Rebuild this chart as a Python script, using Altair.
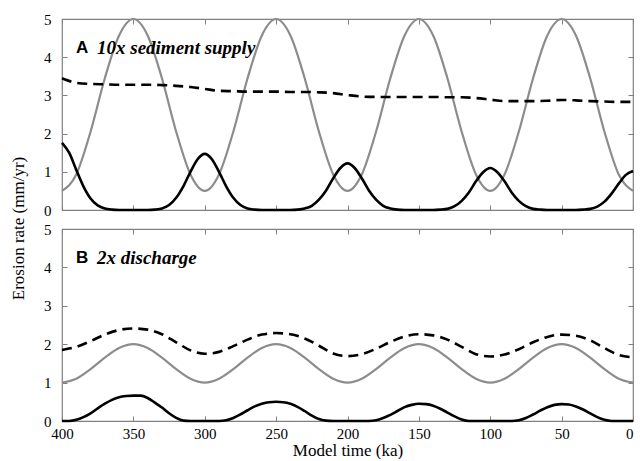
import altair as alt
import pandas as pd

# ---------------- data ----------------
t10 = list(range(400, -1, -10))   # 41 samples
t5 = list(range(400, -1, -5))     # 81 samples

# Panel A: 10x sediment supply
grey_a = [0.50, 0.93, 2.05, 3.45, 4.57, 5.00, 4.57, 3.45, 2.05, 0.93,
          0.50, 0.93, 2.05, 3.45, 4.57, 5.00, 4.57, 3.45, 2.05, 0.93,
          0.50, 0.93, 2.05, 3.45, 4.57, 5.00, 4.57, 3.45, 2.05, 0.93,
          0.50, 0.93, 2.05, 3.45, 4.57, 5.00, 4.57, 3.45, 2.05, 0.93,
          0.50]
black_a = [1.76, 1.50, 1.05, 0.62, 0.30, 0.12, 0.04, 0.01, 0.00, 0.00,
           0.00, 0.00, 0.00, 0.01, 0.04, 0.13, 0.32, 0.62, 1.00, 1.33,
           1.47, 1.33, 1.00, 0.62, 0.32, 0.13, 0.04, 0.01, 0.00, 0.00,
           0.00, 0.00, 0.00, 0.01, 0.04, 0.11, 0.27, 0.51, 0.83, 1.10,
           1.22, 1.10, 0.83, 0.51, 0.27, 0.11, 0.04, 0.01, 0.00, 0.00,
           0.00, 0.00, 0.00, 0.01, 0.03, 0.10, 0.24, 0.46, 0.75, 0.99,
           1.10, 0.99, 0.75, 0.46, 0.24, 0.10, 0.03, 0.01, 0.00, 0.00,
           0.00, 0.00, 0.00, 0.01, 0.03, 0.09, 0.22, 0.43, 0.69, 0.92,
           1.02]
dashed_a = [3.45, 3.33, 3.30, 3.29, 3.28, 3.28, 3.28, 3.27, 3.25, 3.22,
            3.17, 3.12, 3.11, 3.10, 3.10, 3.10, 3.09, 3.09, 3.08, 3.06,
            3.01, 2.97, 2.96, 2.96, 2.96, 2.96, 2.96, 2.95, 2.95, 2.93,
            2.89, 2.85, 2.85, 2.85, 2.86, 2.88, 2.87, 2.85, 2.84, 2.83,
            2.83]

# Panel B: 2x discharge
grey_b = [1.00, 1.10, 1.35, 1.65, 1.90, 2.00, 1.90, 1.65, 1.35, 1.10,
          1.00, 1.10, 1.35, 1.65, 1.90, 2.00, 1.90, 1.65, 1.35, 1.10,
          1.00, 1.10, 1.35, 1.65, 1.90, 2.00, 1.90, 1.65, 1.35, 1.10,
          1.00, 1.10, 1.35, 1.65, 1.90, 2.00, 1.90, 1.65, 1.35, 1.10,
          1.00]
black_b = [0.00, 0.00, 0.03, 0.10, 0.20, 0.33, 0.45, 0.55, 0.62, 0.65,
           0.66, 0.66, 0.60, 0.48, 0.35, 0.20, 0.08, 0.01, 0.00, 0.00,
           0.00, 0.00, 0.00, 0.02, 0.08, 0.17, 0.28, 0.38, 0.45, 0.49,
           0.50, 0.49, 0.45, 0.37, 0.26, 0.14, 0.05, 0.01, 0.00, 0.00,
           0.00, 0.00, 0.00, 0.00, 0.02, 0.08, 0.16, 0.26, 0.36, 0.42,
           0.45, 0.44, 0.40, 0.32, 0.22, 0.12, 0.04, 0.00, 0.00, 0.00,
           0.00, 0.00, 0.00, 0.00, 0.02, 0.08, 0.17, 0.27, 0.36, 0.42,
           0.44, 0.43, 0.38, 0.30, 0.20, 0.10, 0.03, 0.00, 0.00, 0.00,
           0.00]
dashed_b = [1.85, 1.93, 2.08, 2.25, 2.37, 2.41, 2.38, 2.26, 2.05, 1.84,
            1.75, 1.80, 1.95, 2.12, 2.25, 2.29, 2.26, 2.15, 1.96, 1.76,
            1.69, 1.74, 1.88, 2.06, 2.20, 2.26, 2.23, 2.12, 1.93, 1.74,
            1.68, 1.73, 1.87, 2.05, 2.19, 2.25, 2.22, 2.10, 1.90, 1.72,
            1.66]

x_ticks = [400, 350, 300, 250, 200, 150, 100, 50, 0]
y_ticks = [0, 1, 2, 3, 4, 5]
panel_letters = ["A", "B"]
panel_titles = ["10x sediment supply", "2x discharge"]
x_title = "Model time (ka)"
y_title = "Erosion rate (mm/yr)"

# ---------------- build table ----------------
rows = []
for panel, series, ts, vals in [
    ("A", "grey", t10, grey_a), ("A", "black", t5, black_a), ("A", "dashed", t10, dashed_a),
    ("B", "grey", t10, grey_b), ("B", "black", t5, black_b), ("B", "dashed", t10, dashed_b),
]:
    for t, v in zip(ts, vals):
        rows.append({"panel": panel, "series": series, "t": t, "v": v})
df = pd.DataFrame(rows)

FRAME = "#808080"
SERIF = "Liberation Serif"
W = 571

xscale = alt.Scale(domain=[0, 400], reverse=True, nice=False, zero=False)
yscale = alt.Scale(domain=[0, 5], nice=False, zero=False)

LBL = dict(labelFont=SERIF, labelFontSize=15, labelColor="black", grid=False,
           tickColor=FRAME, tickWidth=1, titleFont=SERIF, titleFontSize=17,
           titleFontWeight="normal", titleColor="black")


def panel(letter, title, show_x, height):
    d = df[df.panel == letter]
    base = alt.Chart(d)

    x_axis = alt.Axis(values=x_ticks, orient="bottom", offset=-5, tickSize=5, domain=False,
                      labels=show_x, labelPadding=5, labelFlush=False, labelOverlap=False,
                      labelAlign={"expr": "datum.value == 0 ? 'right' : 'center'"},
                      title=x_title if show_x else None, titlePadding=1, format="d", **LBL)
    if letter == "A":
        y_axis = alt.Axis(values=y_ticks, orient="left", offset=-5, tickSize=5, domain=False,
                          labelPadding=11, labelFlush=False, labelOverlap=False,
                          title=y_title, titleX=-40, titleY=209, titleAngle=-90,
                          titleBaseline="bottom", titleAlign="center", **LBL)
    else:
        y_axis = alt.Axis(values=y_ticks, orient="left", offset=-5, tickSize=5, domain=False,
                          labelPadding=11, labelFlush=False, labelOverlap=False, title=None, **LBL)

    grey = base.transform_filter(alt.datum.series == "grey").mark_line(
        color="#8c8c8c", strokeWidth=2.2, interpolate="monotone"
    ).encode(x=alt.X("t:Q", scale=xscale, axis=x_axis),
             y=alt.Y("v:Q", scale=yscale, axis=y_axis))

    ghost = base.transform_filter(alt.datum.series == "grey").mark_line(
        opacity=0
    ).encode(
        x=alt.X("t:Q", scale=xscale, axis=alt.Axis(values=x_ticks, orient="top", offset=-5, tickSize=5,
                                                     domain=False, labels=False, title=None, grid=False,
                                                     tickColor=FRAME, tickWidth=1)),
        y=alt.Y("v:Q", scale=yscale, axis=alt.Axis(values=y_ticks, orient="right", offset=-5, tickSize=5,
                                                     domain=False, labels=False, title=None, grid=False,
                                                     tickColor=FRAME, tickWidth=1)))

    black = base.transform_filter(alt.datum.series == "black").mark_line(
        color="#000000", strokeWidth=2.6, interpolate="monotone"
    ).encode(x=alt.X("t:Q", scale=xscale, axis=None),
             y=alt.Y("v:Q", scale=yscale, axis=None))

    dashed = base.transform_filter(alt.datum.series == "dashed").mark_line(
        color="#000000", strokeWidth=2.6, strokeDash=[10, 6], interpolate="monotone"
    ).encode(x=alt.X("t:Q", scale=xscale, axis=None),
             y=alt.Y("v:Q", scale=yscale, axis=None))

    lab_letter = alt.Chart(pd.DataFrame({"s": [letter]})).mark_text(
        font="Liberation Sans", fontWeight="bold", fontSize=17, align="left", baseline="middle", color="black"
    ).encode(text="s:N", x=alt.value(14), y=alt.value(29))
    lab_title = alt.Chart(pd.DataFrame({"s": [title]})).mark_text(
        font=SERIF, fontWeight="bold", fontStyle="italic", fontSize=19, align="left", baseline="middle",
        color="black"
    ).encode(text="s:N", x=alt.value(35), y=alt.value(29))

    return alt.layer(grey, ghost, black, dashed, lab_letter, lab_title).resolve_axis(
        x="independent", y="independent"
    ).properties(width=W, height=height)


pa = panel("A", panel_titles[0], False, 191)
pb = panel("B", panel_titles[1], True, 192)

chart = alt.vconcat(pa, pb, spacing=19, bounds="flush").properties(
    padding={"left": 0, "top": 3, "right": -5, "bottom": 0}, background="white"
).configure_view(stroke=FRAME, strokeWidth=1.2)

chart.save("out.html", embed_options={"renderer": "svg", "actions": False})
